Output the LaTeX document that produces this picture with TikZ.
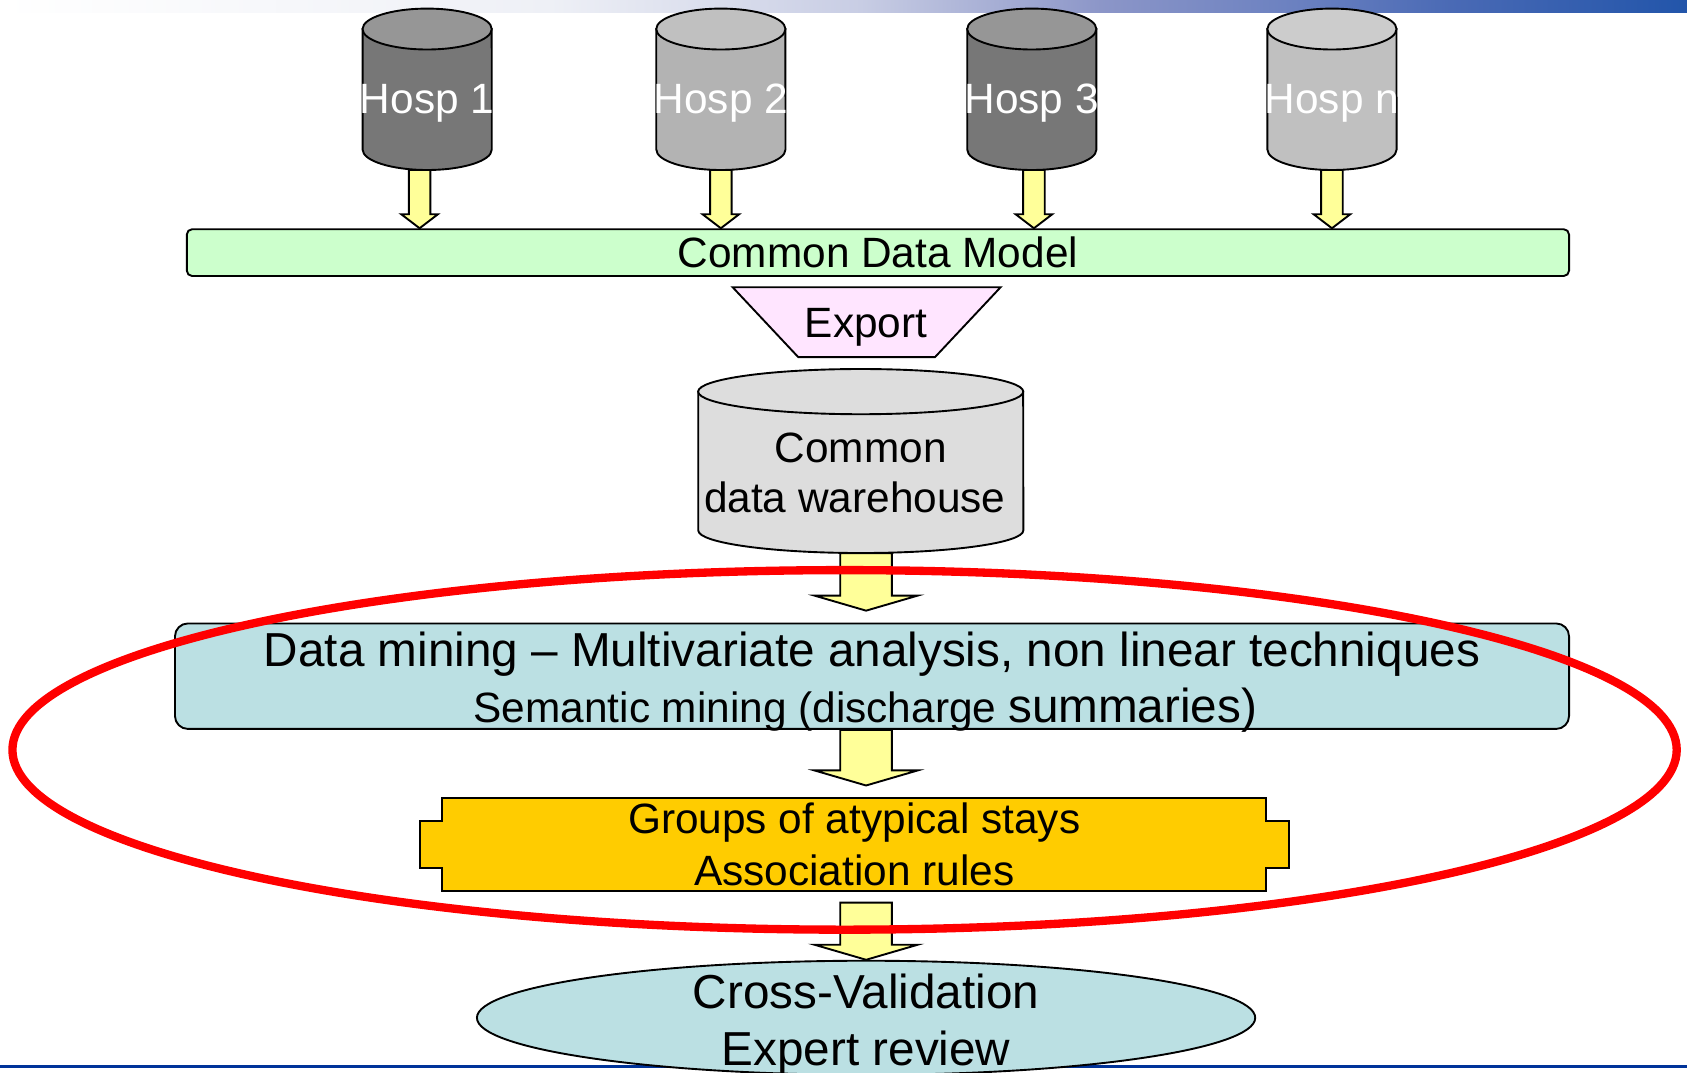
\documentclass[tikz,border=0pt]{standalone}
\usepackage{fontspec}
\setmainfont{Liberation Sans}
\usetikzlibrary{calc,shapes.geometric}
\definecolor{hospdark}{HTML}{777777}
\definecolor{hospdarktop}{HTML}{969696}
\definecolor{hosplight}{HTML}{B3B3B3}
\definecolor{hosplighttop}{HTML}{C0C0C0}
\definecolor{hosppale}{HTML}{C0C0C0}
\definecolor{hosppaletop}{HTML}{CCCCCC}
\definecolor{dwhgray}{HTML}{DDDDDD}
\definecolor{cdmgreen}{HTML}{CCFFCC}
\definecolor{exportpink}{HTML}{FFE5FF}
\definecolor{minecyan}{HTML}{BBE0E3}
\definecolor{groupgold}{HTML}{FFCC00}
\definecolor{flowyellow}{HTML}{FFFF99}
\definecolor{barA}{HTML}{EEF0F6}
\definecolor{barB}{HTML}{C8CDE4}
\definecolor{barC}{HTML}{8C96C8}
\definecolor{barD}{HTML}{6A80C0}
\definecolor{barE}{HTML}{4A6AB5}
\definecolor{barF}{HTML}{2255AA}
\definecolor{lineblue}{HTML}{003399}
\begin{document}
\begin{tikzpicture}[x=0.01cm, y=-0.01cm, line width=0.5pt,
    normaltext/.style={font=\fontsize{11.2pt}{13.4pt}\selectfont},
    hospframe/.style={inner sep=0pt, outer sep=0pt, minimum width=1.2cm, minimum height=1.5cm},
    hosplabel/.style={normaltext, white, yshift=-0.13cm},
    flowarrow/.style n args={3}{draw, fill=flowyellow,
      to path={let \p1=(\tikztostart), \p2=(\tikztotarget) in
        (\x1-#1,\y1) -- (\x1-#1,\y2+#3) -- (\x1-#2,\y2+#3) -- (\x1,\y2)
        -- (\x1+#2,\y2+#3) -- (\x1+#1,\y2+#3) -- (\x1+#1,\y1) -- cycle}},
    smallflow/.style={flowarrow={0.1cm}{0.17cm}{0.13cm}},
    bigflow/.style={flowarrow={0.24cm}{0.48cm}{0.14cm}}]
  \useasboundingbox (0,0) rectangle (1568,997);
  \shade[left color=white, right color=barA] (0,0) rectangle (512,12);
  \shade[left color=barA, right color=barB] (511,0) rectangle (801,12);
  \shade[left color=barB, right color=barC] (800,0) rectangle (1023,12);
  \shade[left color=barC, right color=barD] (1022,0) rectangle (1209,12);
  \shade[left color=barD, right color=barE] (1208,0) rectangle (1349,12);
  \shade[left color=barE, right color=barF] (1348,0) rectangle (1568,12);
  \draw[lineblue, line width=0.8pt] (0,991.5) -- (1568,991.5);

  \filldraw[fill=hospdark] (337,27) -- (337,139) arc[start angle=180, end angle=360, x radius=0.6cm, y radius=0.19cm] -- (457,27) -- cycle;
  \filldraw[fill=hospdarktop] (397,27) ellipse [x radius=0.6cm, y radius=0.19cm];
  \filldraw[fill=hosplight] (610,27) -- (610,139) arc[start angle=180, end angle=360, x radius=0.6cm, y radius=0.19cm] -- (730,27) -- cycle;
  \filldraw[fill=hosplighttop] (670,27) ellipse [x radius=0.6cm, y radius=0.19cm];
  \filldraw[fill=hospdark] (899,27) -- (899,139) arc[start angle=180, end angle=360, x radius=0.6cm, y radius=0.19cm] -- (1019,27) -- cycle;
  \filldraw[fill=hospdarktop] (959,27) ellipse [x radius=0.6cm, y radius=0.19cm];
  \filldraw[fill=hosppale] (1178,27) -- (1178,139) arc[start angle=180, end angle=360, x radius=0.6cm, y radius=0.19cm] -- (1298,27) -- cycle;
  \filldraw[fill=hosppaletop] (1238,27) ellipse [x radius=0.6cm, y radius=0.19cm];
  \node[hospframe, label={[hosplabel]center:Hosp 1}] (h1) at (397,83) {};
  \node[hospframe, label={[hosplabel]center:Hosp 2}] (h2) at (670,83) {};
  \node[hospframe, label={[hosplabel]center:Hosp 3}] (h3) at (959,83) {};
  \node[hospframe, label={[hosplabel]center:Hosp n}] (hn) at (1238,83) {};

  \node[normaltext, draw, fill=cdmgreen, rounded corners=0.05cm, inner sep=0pt,
    minimum width=12.84cm, minimum height=0.435cm] (cdm) at (816,234.8) {Common Data Model};

  \filldraw[fill=exportpink] (681,267) -- (930,267) -- (869,332) -- (742,332) -- cycle;
  \node[normaltext] (export) at (805,304) {Export};

  \filldraw[fill=dwhgray] (649,364) -- (649,493) arc[start angle=180, end angle=360, x radius=1.51cm, y radius=0.21cm] -- (951,364) -- cycle;
  \filldraw[fill=dwhgray] (800,364) ellipse [x radius=1.51cm, y radius=0.21cm];
  \node[inner sep=0pt, outer sep=0pt, minimum width=3.02cm, minimum height=1.71cm] (dwh) at (800,428.5) {};
  \node[normaltext, font=\fontsize{11.2pt}{13pt}\selectfont, align=center] (dwhtext) at ([yshift=-0.11cm]dwh.center) {Common\\data warehouse\hphantom{\ }};

  \node[draw, fill=minecyan, rounded corners=0.12cm, inner sep=0pt,
    minimum width=12.95cm, minimum height=0.98cm] (dm) at (810.5,628.5) {};
  \node[align=center, font=\fontsize{12.6pt}{14.9pt}\selectfont] (dmtext) at ([yshift=-0.055cm]dm.center)
    {Data mining – Multivariate analysis, non linear techniques\\{\fontsize{11.2pt}{14.9pt}\selectfont Semantic mining (discharge }summaries)\hphantom{\ }};

  \filldraw[fill=groupgold] (411,742) -- (1177,742) -- (1177,763) -- (1198,763) -- (1198,807) -- (1177,807)
    -- (1177,828) -- (411,828) -- (411,807) -- (390,807) -- (390,763) -- (411,763) -- cycle;
  \node[font=\fontsize{11.2pt}{13.66pt}\selectfont, align=center, inner sep=0pt,
    minimum width=7.66cm, minimum height=0.86cm] (groups) at (794,785) {Groups of atypical stays\\Association rules};

  \node[ellipse, draw, fill=minecyan, inner sep=0pt, minimum width=7.23cm, minimum height=1.06cm] (cv) at (805,946) {};
  \node[align=center, font=\fontsize{12.6pt}{15pt}\selectfont] (cvtext) at ([yshift=-0.065cm]cv.center) {Cross-Validation\\Expert review};

  \draw[smallflow] ([xshift=-0.07cm]h1.south) to (cdm.north);
  \draw[smallflow] (h2.south) to (cdm.north);
  \draw[smallflow] ([xshift=0.02cm]h3.south) to (cdm.north);
  \draw[smallflow] (hn.south) to (cdm.north);
  \draw[bigflow] (dwh.south -| cv.north) to ($(dm.north -| cv.north)+(0,0.11cm)$);
  \draw[bigflow] (dm.south -| cv.north) to ($(groups.north -| cv.north)+(0,0.11cm)$);
  \draw[bigflow] ($(groups.south -| cv.north)+(0,-0.1cm)$) to (cv.north);

  \draw[red, line width=2.2pt] (785,697) ellipse [x radius=7.73cm, y radius=1.67cm];
\end{tikzpicture}
\end{document}
